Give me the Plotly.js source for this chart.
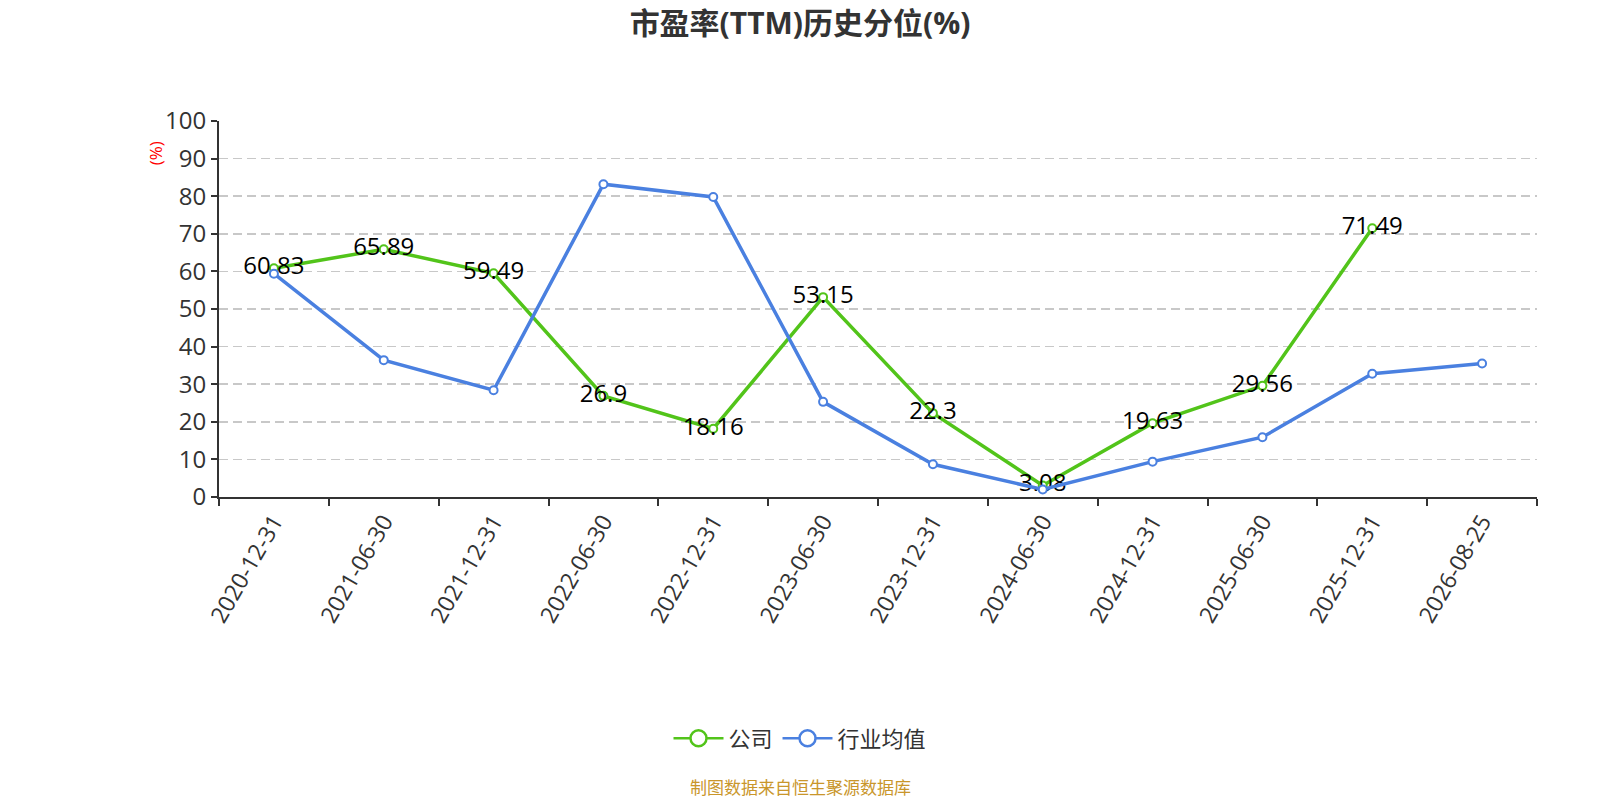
<!DOCTYPE html>
<html>
<head>
<meta charset="utf-8">
<script src="https://cdn.plot.ly/plotly-3.0.1.min.js"></script>
<style>
    html, body { margin: 0; padding: 0; background: #fff; }
    #chart { width: 1600px; height: 800px; }
</style>
</head>
<body>
<div id="chart"></div>
<script>
const dates = [
    "2020-12-31", "2021-06-30", "2021-12-31", "2022-06-30", "2022-12-31", "2023-06-30",
    "2023-12-31", "2024-06-30", "2024-12-31", "2025-06-30", "2025-12-31", "2026-08-25"
]
// company percentile, last date has no value
const companyValues = [60.83, 65.89, 59.49, 26.9, 18.16, 53.15, 22.3, 3.08, 19.63, 29.56, 71.49, null]
// industry average
const industryValues = [59.4, 36.4, 28.4, 83.2, 79.8, 25.3, 8.7, 2.0, 9.4, 15.9, 32.8, 35.5]

const fontFamily = "'Open Sans', 'Noto Sans CJK SC', sans-serif"
const green = "#52c41a"
const blue = "#4a80e0"

// page centre expressed in plot-area (paper) units: plot spans 219..1537 px
const pageCentre = (800 - 219) / 1318

function lineTrace(name, values, color, withLabels) {
    let trace = {
        type: "scatter",
        mode: withLabels ? "lines+markers+text" : "lines+markers",
        name: name,
        x: dates,
        y: values,
        line: { color: color, width: 3.5 },
        marker: {
            symbol: "circle",
            size: 8,
            color: "#fff",
            line: { color: color, width: 2 }
        },
        cliponaxis: false,
        showlegend: false
    }
    if (withLabels) {
        trace.text = values.map(v => v === null ? "" : String(v))
        trace.textposition = "middle center"
        trace.textfont = { size: 24, color: "#000", family: fontFamily }
    }
    return trace
}

// empty traces only for the legend, so the symbols can be bigger
function legendTrace(name, color) {
    return {
        type: "scatter",
        mode: "lines+markers",
        name: name,
        x: [null],
        y: [null],
        line: { color: color, width: 2.5 },
        marker: { symbol: "circle", size: 16, color: "#fff", line: { color: color, width: 2.5 } },
        showlegend: true
    }
}

const data = [
    lineTrace("公司", companyValues, green, true),
    lineTrace("行业均值", industryValues, blue, false),
    legendTrace("公司", green),
    legendTrace("行业均值", blue)
]

const layout = {
    width: 1600,
    height: 800,
    font: { family: fontFamily, color: "#333" },
    paper_bgcolor: "#fff",
    plot_bgcolor: "#fff",
    margin: { l: 219, r: 63, t: 121, b: 303 },
    title: {
        text: "<b>市盈率(TTM)历史分位(%)</b>",
        font: { size: 30, color: "#333", family: fontFamily },
        x: 0.5,
        xanchor: "center",
        y: 0.971,
        yanchor: "middle"
    },
    xaxis: {
        type: "category",
        range: [-0.5, 11.5],
        tickson: "boundaries",
        ticks: "outside",
        ticklen: 7,
        tickcolor: "#333",
        tickwidth: 2,
        showline: true,
        linecolor: "#333",
        linewidth: 2,
        showgrid: false,
        tickangle: -60,
        tickfont: { size: 23, color: "#333" },
        fixedrange: true
    },
    yaxis: {
        range: [0, 100],
        dtick: 10,
        ticks: "outside",
        ticklen: 6,
        tickcolor: "#333",
        tickwidth: 2,
        showline: true,
        linecolor: "#333",
        linewidth: 2,
        gridcolor: "#c8c8c8",
        griddash: "9px,5px",
        gridwidth: 1.5,
        zeroline: false,
        tickfont: { size: 24, color: "#333" },
        fixedrange: true
    },
    showlegend: true,
    legend: {
        orientation: "h",
        x: pageCentre,
        xanchor: "center",
        y: -0.642,
        yanchor: "middle",
        font: { size: 22, color: "#333" },
        itemwidth: 50
    },
    annotations: [
        {
            text: "(%)",
            xref: "paper",
            yref: "paper",
            x: -0.0486,
            xanchor: "center",
            y: 0.914,
            yanchor: "middle",
            textangle: -90,
            showarrow: false,
            font: { size: 17, color: "#ff0000" }
        },
        {
            text: "制图数据来自恒生聚源数据库",
            xref: "paper",
            yref: "paper",
            x: pageCentre,
            xanchor: "center",
            y: -0.772,
            yanchor: "middle",
            showarrow: false,
            font: { size: 17, color: "#c9962b" }
        }
    ]
}

Plotly.newPlot("chart", data, layout, { displayModeBar: false, staticPlot: true })
</script>
</body>
</html>
